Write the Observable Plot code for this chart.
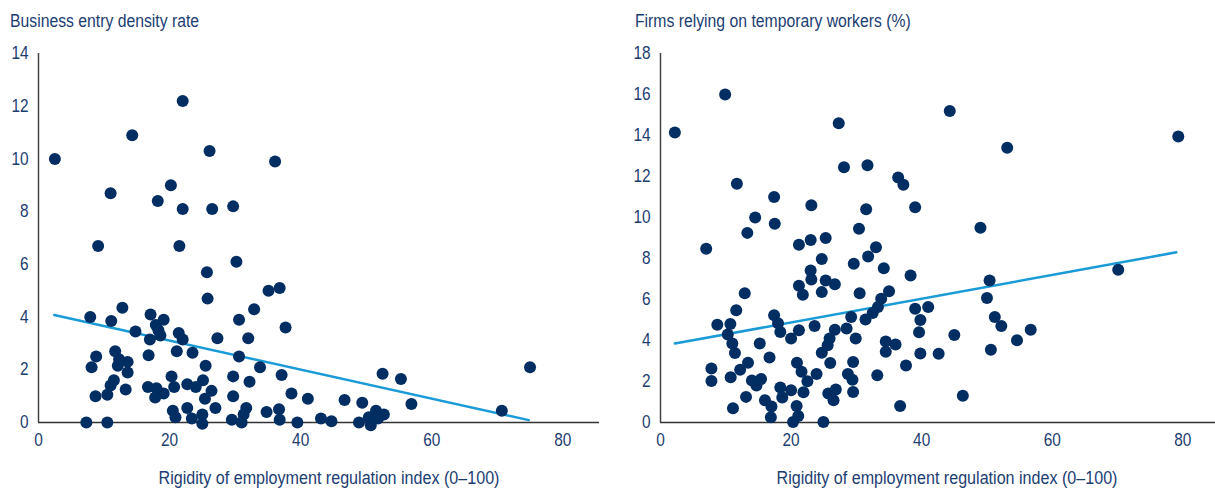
<!DOCTYPE html>
<html><head><meta charset="utf-8">
<script src="https://cdn.jsdelivr.net/npm/d3@7"></script>
<script src="https://cdn.jsdelivr.net/npm/@observablehq/plot@0.6"></script>
<style>
body{margin:0;background:#fff;width:1215px;height:488px;overflow:hidden;position:relative;font-family:"Liberation Sans","Arial",sans-serif;}
.panel{position:absolute;top:0;width:607px;height:488px;}
.title{position:absolute;top:10px;font-size:17.5px;color:#1c3d72;white-space:nowrap;line-height:22px;transform:scaleX(0.9);transform-origin:left center;}
.xlabel{position:absolute;top:467px;font-size:17.5px;color:#1c3d72;white-space:nowrap;transform:translateX(-50%) scaleX(0.92);line-height:22px;}
.panel svg{position:absolute;top:0;left:0;}
</style></head><body>
<div id="left" class="panel" style="left:0"></div>
<div id="right" class="panel" style="left:608px"></div>
<script>
// ---- Data ----
const xTicks = [0, 20, 40, 60, 80];
const leftYTicks = [0, 2, 4, 6, 8, 10, 12, 14];
const rightYTicks = [0, 2, 4, 6, 8, 10, 12, 14, 16, 18];

const leftTitle = "Business entry density rate";
const rightTitle = "Firms relying on temporary workers (%)";
const xAxisLabel = "Rigidity of employment regulation index (0–100)";

// Left panel: rigidity index vs business entry density rate
const leftX = [2.5,22.0,14.3,26.1,36.1,11.0,20.2,18.2,22.0,26.5,29.7,9.1,21.5,30.2,25.7,25.8,35.1,36.8,32.9,30.6,
  37.7,27.3,32.0,30.6,33.8,37.1,38.6,41.1,34.8,36.7,36.8,39.5,43.1,44.7,46.7,49.4,48.9,50.7,50.4,51.5,
  51.8,52.7,52.5,55.3,56.9,70.7,75.0,29.7,29.7,32.2,31.7,31.3,31.0,29.5,27.0,26.4,25.4,25.1,25.5,23.5,
  21.1,21.4,22.0,22.7,24.0,22.7,23.4,25.0,25.0,20.9,20.5,20.7,20.3,19.1,18.0,17.8,16.7,16.8,17.0,17.1,
  19.1,17.9,18.3,18.6,14.8,12.8,11.1,7.9,8.8,8.1,8.7,7.3,10.5,10.5,11.0,11.5,13.3,13.6,13.6,11.7,12.3,12.1];
const leftY = [10.0,12.2,10.9,10.3,9.9,8.7,9.0,8.4,8.1,8.1,8.2,6.7,6.7,6.1,5.7,4.7,5.0,5.1,4.3,3.9,
  3.6,3.2,3.2,2.5,2.1,1.8,1.1,0.9,0.4,0.5,0.1,0.0,0.15,0.05,0.85,0.75,0.0,-0.1,0.2,0.45,
  0.15,0.3,1.85,1.65,0.7,0.45,2.1,1.75,1.0,1.55,0.55,0.3,0.0,0.1,0.55,1.2,0.9,1.6,2.15,2.65,
  2.7,3.4,3.15,1.45,1.35,0.55,0.15,0.3,-0.05,0.2,0.45,1.35,1.75,1.1,1.3,0.95,1.35,2.55,3.15,4.1,
  3.9,3.7,3.5,3.3,3.45,4.35,3.85,4.0,2.5,2.1,1.0,0.0,0.0,1.05,1.4,1.6,1.25,1.9,2.3,2.7,2.4,2.15];
const leftTrendX = [2.4, 74.8];
const leftTrendY = [4.08, 0.09];

// Right panel: rigidity index vs firms relying on temporary workers
const rightX = [2.2,9.9,27.3,44.3,53.1,79.3,28.1,31.7,36.4,37.2,11.7,17.4,23.1,31.5,39.0,14.5,17.5,13.3,30.4,49.0,
  7.0,21.2,23.0,25.3,33.0,31.8,24.7,29.6,23.0,23.1,25.3,26.7,34.2,38.3,70.1,50.4,50.0,21.2,21.8,24.7,
  30.5,12.9,11.6,35.0,33.8,33.3,32.5,31.4,29.2,39.0,41.0,39.8,39.6,39.8,36.0,34.5,34.5,37.6,33.2,42.6,
  45.0,50.6,51.2,52.2,54.6,56.7,46.3,36.7,8.7,10.7,10.3,11.0,11.4,15.2,13.4,12.2,10.75,7.8,7.8,14.0,
  14.7,15.4,13.1,11.1,16.7,17.4,18.0,18.35,20.0,21.2,23.6,26.7,28.5,29.9,25.9,25.6,24.7,26.0,29.5,28.7,
  29.4,29.5,23.9,20.9,21.6,22.5,21.9,20.0,18.35,18.65,16.0,17.0,16.9,20.85,21.1,20.3,24.95,25.7,26.85,26.5];
const rightY = [14.15,16.0,14.6,15.2,13.4,13.95,12.45,12.55,11.95,11.6,11.65,11.0,10.6,10.4,10.5,10.0,9.7,9.25,9.45,9.5,
  8.47,8.67,8.9,9.0,8.55,8.1,7.97,7.74,7.42,6.97,6.93,6.74,7.53,7.17,7.45,6.93,6.07,6.67,6.23,6.36,
  6.31,6.31,5.47,6.4,6.04,5.63,5.34,5.02,5.15,5.55,5.63,5.0,4.4,3.37,3.8,3.95,3.45,2.78,2.3,3.35,
  4.27,3.55,5.15,4.71,4.01,4.53,1.3,0.8,4.77,4.8,4.29,3.85,3.39,3.85,2.92,2.57,2.21,2.63,2.03,2.05,
  1.8,2.12,1.25,0.7,3.17,5.23,4.84,4.42,4.1,4.5,4.71,4.53,4.58,4.1,4.1,3.77,3.4,2.9,2.95,2.37,
  2.09,1.49,2.37,2.92,2.48,2.01,1.47,1.57,1.71,1.22,1.09,0.78,0.26,0.81,0.32,0.02,0.02,1.41,1.61,1.09];
const rightTrendX = [2.2, 79.0];
const rightTrendY = [3.85, 8.3];

// ---- Styles ----
const dotColor = "#002d62";
const trendColor = "#1a9ad6";
const textColor = "#1c3d72";
const fontFamily = '"Liberation Sans","Arial",sans-serif';

function zip(xs, ys) { return xs.map((v, i) => ({x: v, y: ys[i]})); }

function condenseTicks(svg) {
  svg.querySelectorAll('g[aria-label="x-axis tick label"] text, g[aria-label="y-axis tick label"] text').forEach(t => {
    const tr = t.getAttribute("transform");
    if (tr) t.setAttribute("transform", tr + " scale(0.88,1)");
  });
}

function drawPanel(el, opts) {
  const svg = Plot.plot({
    width: 607,
    height: 488,
    marginLeft: opts.marginLeft,
    marginRight: opts.marginRight,
    marginTop: 53,
    marginBottom: 66,
    style: {fontFamily, fontSize: "17.5px", color: textColor, background: "transparent", overflow: "visible"},
    x: {domain: opts.xDomain, ticks: xTicks, tickSize: 0, tickPadding: 11, label: null},
    y: {domain: opts.yDomain, ticks: opts.yTicks, tickSize: 0, tickPadding: 10, label: null},
    marks: [
      Plot.ruleX([0], {stroke: "#444", strokeWidth: 1.5}),
      Plot.ruleY([0], {stroke: "#333", strokeWidth: 1.5}),
      Plot.line(zip(opts.trendX, opts.trendY), {x: "x", y: "y", stroke: trendColor, strokeWidth: 2.5}),
      Plot.dot(zip(opts.x, opts.y), {x: "x", y: "y", r: 6, fill: dotColor})
    ]
  });
  condenseTicks(svg);
  el.appendChild(svg);
  const t = document.createElement("div");
  t.className = "title";
  t.style.left = opts.titleLeft + "px";
  t.textContent = opts.title;
  el.appendChild(t);
  const xl = document.createElement("div");
  xl.className = "xlabel";
  xl.style.left = opts.xLabelCenter + "px";
  xl.textContent = xAxisLabel;
  el.appendChild(xl);
}

drawPanel(document.getElementById("left"), {
  x: leftX, y: leftY, trendX: leftTrendX, trendY: leftTrendY,
  yTicks: leftYTicks, xDomain: [0, 85.6], yDomain: [0, 14],
  marginLeft: 38, marginRight: 8, title: leftTitle, titleLeft: 10, xLabelCenter: 329
});
drawPanel(document.getElementById("right"), {
  x: rightX, y: rightY, trendX: rightTrendX, trendY: rightTrendY,
  yTicks: rightYTicks, xDomain: [0, 85.0], yDomain: [0, 18],
  marginLeft: 52, marginRight: 0, title: rightTitle, titleLeft: 27, xLabelCenter: 339
});
</script>
</body></html>
